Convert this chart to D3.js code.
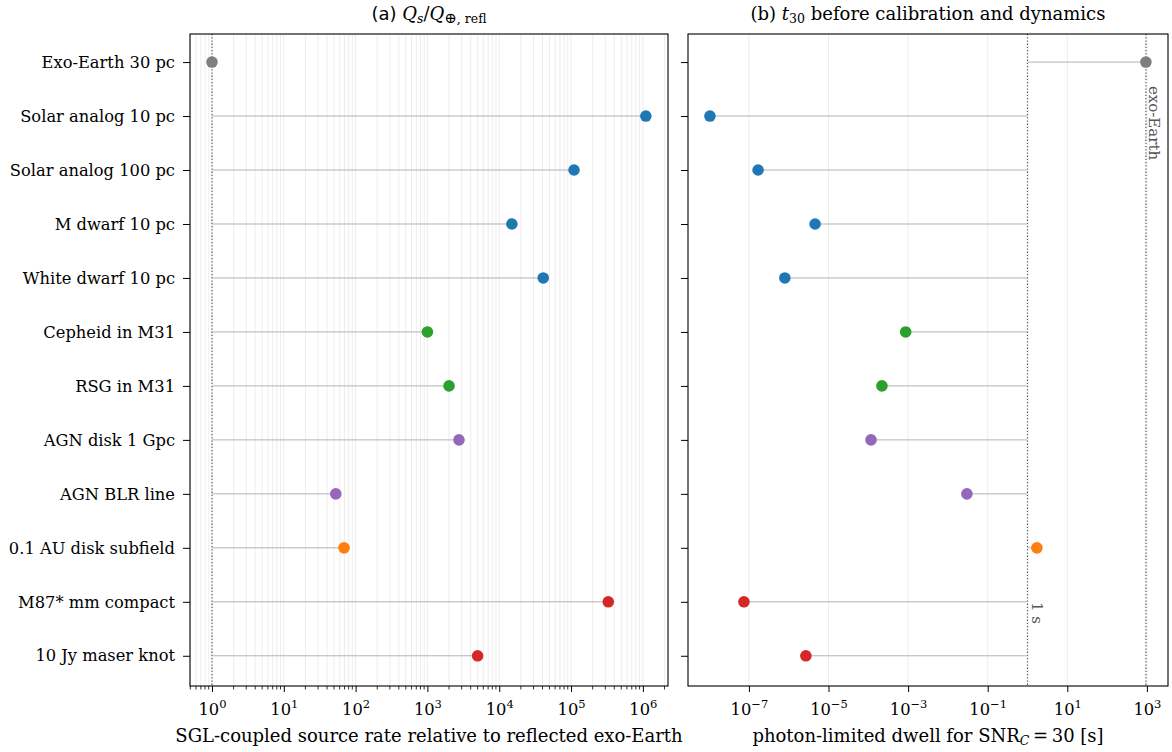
<!DOCTYPE html>
<html><head><meta charset="utf-8">
<script src="https://cdn.jsdelivr.net/npm/d3@7"></script>
<style>body{margin:0;background:#fff}svg{display:block}text{font-family:"DejaVu Serif",serif}</style>
</head><body><svg id="c" width="1172" height="752"></svg>
<script>
const categories = ["Exo-Earth 30 pc","Solar analog 10 pc","Solar analog 100 pc","M dwarf 10 pc","White dwarf 10 pc","Cepheid in M31","RSG in M31","AGN disk 1 Gpc","AGN BLR line","0.1 AU disk subfield","M87* mm compact","10 Jy maser knot"];
const colors = ["#7f7f7f","#1f77b4","#1f77b4","#1f77b4","#1f77b4","#2ca02c","#2ca02c","#9467bd","#9467bd","#ff7f0e","#d62728","#d62728"];
const ratio = [1, 1.1e6, 1.1e5, 1.5e4, 4.1e4, 1.0e3, 2.0e3, 2.75e3, 53, 69, 3.3e5, 5.0e3];
const t30 = [944, 1.05e-8, 1.7e-7, 4.6e-6, 8.0e-7, 8.7e-4, 2.2e-4, 1.17e-4, 0.030, 1.72, 7.5e-8, 2.7e-6];
const leftTicks = [0,1,2,3,4,5,6];
const rightTicks = [-7,-5,-3,-1,1,3];
const exoEarthT = t30[0];

const svg = d3.select("#c");
const yTop = 34, yBot = 686;
const y = d3.scaleLinear().domain([-0.52, 11.56]).range([yTop, yBot]);

function supTick(sel, exp){
  sel.text(null);
  sel.append("tspan").text("10");
  sel.append("tspan").attr("dy", -7.5).attr("font-size", 11.5).text(exp < 0 ? "\u2212" + Math.abs(exp) : exp);
}

function panel(x0, x1, domain, vals, stemFrom, opts){
  const x = d3.scaleLog().domain(domain).range([x0, x1]);
  const g = svg.append("g");
  let gridVals = [];
  if (opts.minor){
    for (let e = Math.floor(Math.log10(domain[0])); e <= Math.ceil(Math.log10(domain[1])); e++)
      for (let m = 1; m <= 9; m++){ const v = m*Math.pow(10,e); if (v>=domain[0] && v<=domain[1]) gridVals.push(v); }
  } else gridVals = opts.ticks.map(e => Math.pow(10,e));
  g.selectAll(".grid").data(gridVals).join("line")
    .attr("x1", d=>x(d)).attr("x2", d=>x(d)).attr("y1", yTop).attr("y2", yBot)
    .attr("stroke", "#ebebeb").attr("stroke-width", 0.9);
  opts.refs.forEach(r => g.append("line").attr("x1", x(r)).attr("x2", x(r)).attr("y1", yTop).attr("y2", yBot)
    .attr("stroke", "#555").attr("stroke-width", 1.2).attr("stroke-dasharray", "1.3,1.9"));
  g.selectAll(".stem").data(vals).join("line")
    .attr("x1", x(stemFrom)).attr("x2", d=>x(d)).attr("y1", (d,i)=>y(i)).attr("y2", (d,i)=>y(i))
    .attr("stroke", "#b3b3b3").attr("stroke-width", 1);
  g.selectAll(".dot").data(vals).join("circle")
    .attr("cx", d=>x(d)).attr("cy", (d,i)=>y(i)).attr("r", 5.8).attr("fill", (d,i)=>colors[i]);
  const ax = d3.axisBottom(x).tickValues(opts.ticks.map(e=>Math.pow(10,e))).tickSize(6).tickFormat("");
  const axg = g.append("g").attr("transform", `translate(0,${yBot})`).call(ax);
  axg.select(".domain").remove();
  axg.selectAll(".tick line").attr("stroke", "#000").attr("stroke-width", 1);
  axg.selectAll(".tick").append("text").attr("y", 29).attr("text-anchor", "middle").attr("font-size", 16.3).attr("fill", "#000")
    .each(function(d){ supTick(d3.select(this), Math.round(Math.log10(d))); });
  if (opts.minor){
    const mv = gridVals.filter(v => Math.abs(Math.log10(v) - Math.round(Math.log10(v))) > 1e-6);
    g.selectAll(".mt").data(mv).join("line").attr("x1", d=>x(d)).attr("x2", d=>x(d)).attr("y1", yBot).attr("y2", yBot+3.5)
      .attr("stroke", "#000").attr("stroke-width", 0.8);
  }
  const ay = d3.axisLeft(y).tickValues(d3.range(categories.length)).tickSize(7).tickPadding(8)
    .tickFormat(opts.labels ? (i => categories[i]) : "");
  const ayg = g.append("g").attr("transform", `translate(${x0},0)`).call(ay);
  ayg.select(".domain").remove();
  ayg.selectAll(".tick text").attr("font-size", 16.3).attr("font-family", "DejaVu Serif").attr("fill", "#000");
  ayg.selectAll(".tick line").attr("stroke", "#000");
  g.append("rect").attr("x", x0).attr("y", yTop).attr("width", x1-x0).attr("height", yBot-yTop)
    .attr("fill", "none").attr("stroke", "#000").attr("stroke-width", 1.1);
  return x;
}

const xl = panel(190, 668, [Math.pow(10,-0.306), Math.pow(10,6.35)], ratio, 1,
  {minor:true, ticks:leftTicks, refs:[1], labels:true});
const xr = panel(688, 1168, [Math.pow(10,-8.53), Math.pow(10,3.53)], t30, 1,
  {minor:false, ticks:rightTicks, refs:[1, exoEarthT], labels:false});

svg.append("text").attr("transform", `translate(${xr(1)+4},${613}) rotate(90)`).attr("text-anchor","middle")
  .attr("font-size", 15).attr("fill", "#555").text("1 s");
svg.append("text").attr("transform", `translate(${xr(exoEarthT)+3},${123}) rotate(90)`).attr("text-anchor","middle")
  .attr("font-size", 15).attr("fill", "#555").text("exo-Earth");

const t1 = svg.append("text").attr("x", 429).attr("y", 20).attr("text-anchor","middle").attr("font-size", 18);
t1.append("tspan").attr("font-family","DejaVu Sans").text("(a) ");
t1.append("tspan").attr("font-style","italic").text("Q");
t1.append("tspan").attr("font-style","italic").attr("font-size",12.5).attr("dy",3).text("s");
t1.append("tspan").attr("dy",-3).text("/");
t1.append("tspan").attr("font-style","italic").text("Q");
t1.append("tspan").attr("font-size",15).attr("dy",3).text("\u2295");
t1.append("tspan").attr("font-size",12.5).text(", refl");

const t2 = svg.append("text").attr("x", 928).attr("y", 20).attr("text-anchor","middle").attr("font-size", 18);
t2.append("tspan").text("(b) ");
t2.append("tspan").attr("font-style","italic").text("t");
t2.append("tspan").attr("font-size",12.5).attr("dy",3).text("30");
t2.append("tspan").attr("dy",-3).text(" before calibration and dynamics");

svg.append("text").attr("x", 429).attr("y", 742).attr("text-anchor","middle").attr("font-size", 18)
  .text("SGL-coupled source rate relative to reflected exo-Earth");
const xl2 = svg.append("text").attr("x", 928).attr("y", 742).attr("text-anchor","middle").attr("font-size", 18);
xl2.append("tspan").text("photon-limited dwell for SNR");
xl2.append("tspan").attr("font-style","italic").attr("font-size",12.5).attr("dy",3).text("C");
xl2.append("tspan").attr("dy",-3).text("\u2009=\u200930 [s]");
</script></body></html>
